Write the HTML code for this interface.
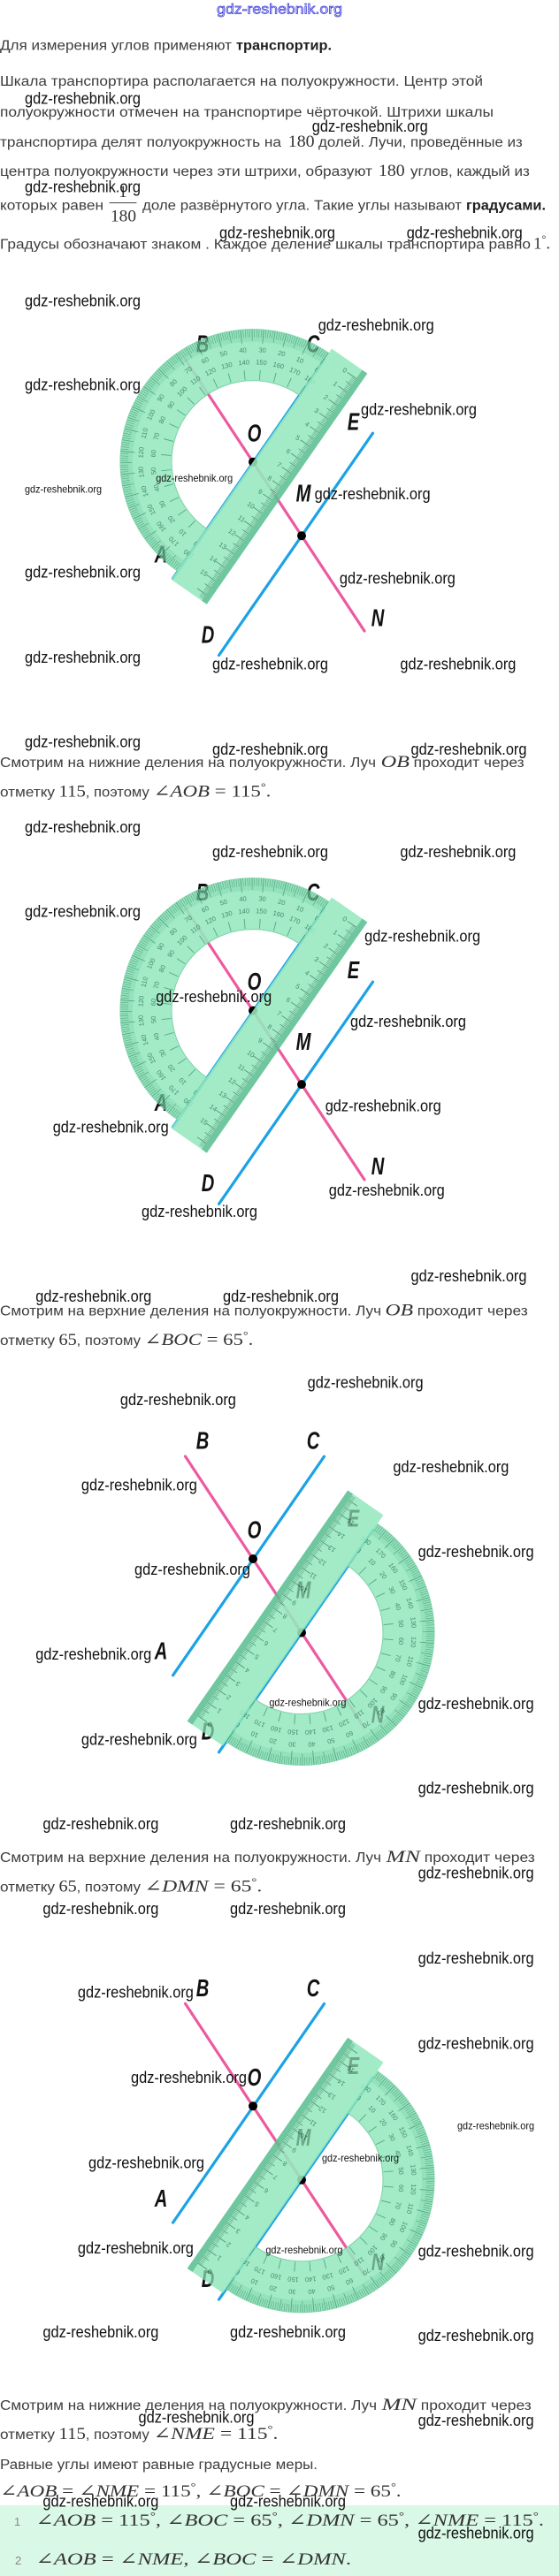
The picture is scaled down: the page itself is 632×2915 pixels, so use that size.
<!DOCTYPE html>
<html><head><meta charset="utf-8"><style>
html,body{margin:0;padding:0;background:#fff}
svg{display:block}
.t{font:15.5px "Liberation Sans",sans-serif;fill:#3d3d3d}
.b{font:bold 15.5px "Liberation Sans",sans-serif;fill:#1e1e1e}
.m{font:19px "Liberation Serif","DejaVu Serif",serif;fill:#333}
.i{font-style:italic}
.wl{font:18px "Liberation Sans",sans-serif;fill:#111}
.ws{font:12px "Liberation Sans",sans-serif;fill:#111}
.lb{font:italic bold 28px "Liberation Sans",sans-serif;fill:#111;text-anchor:middle}
.pn{font:7.5px "Liberation Sans",sans-serif;fill:#2a7a5c;text-anchor:middle}
.hd{font:16px "Liberation Sans",sans-serif;fill:#d8d8fb;stroke:#3b3bd6;stroke-width:0.7}
.nm{font:13px "Liberation Sans",sans-serif;fill:#888}
</style></head><body>
<svg width="632" height="2915" viewBox="0 0 632 2915" xmlns="http://www.w3.org/2000/svg">
<rect width="632" height="2915" fill="#fff"/>

<text class="hd" x="245" y="15.5" textLength="142" lengthAdjust="spacingAndGlyphs">gdz-reshebnik.org</text>

<text class="t" x="0" y="56.7" textLength="262" lengthAdjust="spacingAndGlyphs">Для измерения углов применяют</text>
<text class="b" x="267" y="56.7" textLength="108" lengthAdjust="spacingAndGlyphs">транспортир.</text>
<text class="t" x="0" y="97" textLength="546" lengthAdjust="spacingAndGlyphs">Шкала транспортира располагается на полуокружности. Центр этой</text>
<text class="t" x="0" y="132" textLength="558" lengthAdjust="spacingAndGlyphs">полуокружности отмечен на транспортире чёрточкой. Штрихи шкалы</text>
<text class="t" x="0" y="166" textLength="318" lengthAdjust="spacingAndGlyphs">транспортира делят полуокружность на</text>
<text class="m" x="325.8" y="166" textLength="29.8" lengthAdjust="spacingAndGlyphs">180</text>
<text class="t" x="360" y="166" textLength="230.7" lengthAdjust="spacingAndGlyphs">долей. Лучи, проведённые из</text>
<text class="t" x="0" y="199" textLength="421" lengthAdjust="spacingAndGlyphs">центра полуокружности через эти штрихи, образуют</text>
<text class="m" x="428" y="199" textLength="29.7" lengthAdjust="spacingAndGlyphs">180</text>
<text class="t" x="464" y="199" textLength="134.8" lengthAdjust="spacingAndGlyphs">углов, каждый из</text>
<text class="t" x="0" y="237.3" textLength="117" lengthAdjust="spacingAndGlyphs">которых равен</text>
<text class="m" x="139" y="223" font-size="13" text-anchor="middle">1</text>
<line x1="123.5" y1="229.5" x2="154.5" y2="229.5" stroke="#444" stroke-width="1"/>
<text class="m" x="125" y="250.7" font-size="18" textLength="29" lengthAdjust="spacingAndGlyphs">180</text>
<text class="t" x="161" y="237.3" textLength="361" lengthAdjust="spacingAndGlyphs">доле развёрнутого угла. Такие углы называют</text>
<text class="b" x="527" y="237.3" textLength="90" lengthAdjust="spacingAndGlyphs">градусами.</text>
<text class="t" x="0" y="281.7" textLength="600" lengthAdjust="spacingAndGlyphs">Градусы обозначают знаком . Каждое деление шкалы транспортира равно</text>
<text class="m" x="603" y="281.7">1<tspan dy="-7" font-size="12">°</tspan><tspan dy="7">.</tspan></text>

<text class="t" x="0" y="868" textLength="425" lengthAdjust="spacingAndGlyphs">Смотрим на нижние деления на полуокружности. Луч</text>
<text class="m i" x="430.6" y="868" textLength="32.4" lengthAdjust="spacingAndGlyphs">OB</text>
<text class="t" x="467.7" y="868" textLength="125" lengthAdjust="spacingAndGlyphs">проходит через</text>
<text class="t" x="0" y="901.5" textLength="62" lengthAdjust="spacingAndGlyphs">отметку</text>
<text class="m" x="66.5" y="901.5" textLength="30.3" lengthAdjust="spacingAndGlyphs">115</text>
<text class="t" x="96.8" y="901.5" textLength="72" lengthAdjust="spacingAndGlyphs">, поэтому</text>
<text class="m" x="173.4" y="901.5" textLength="133" lengthAdjust="spacingAndGlyphs">∠<tspan class="i">AOB</tspan> = 115<tspan dy="-7" font-size="12">°</tspan><tspan dy="7">.</tspan></text>

<text class="t" x="0" y="1488.6" textLength="431" lengthAdjust="spacingAndGlyphs">Смотрим на верхние деления на полуокружности. Луч</text>
<text class="m i" x="435.5" y="1488.6" textLength="31.5" lengthAdjust="spacingAndGlyphs">OB</text>
<text class="t" x="471.8" y="1488.6" textLength="125" lengthAdjust="spacingAndGlyphs">проходит через</text>
<text class="t" x="0" y="1521.8" textLength="62" lengthAdjust="spacingAndGlyphs">отметку</text>
<text class="m" x="66.5" y="1521.8" textLength="20.2" lengthAdjust="spacingAndGlyphs">65</text>
<text class="t" x="86.7" y="1521.8" textLength="72.3" lengthAdjust="spacingAndGlyphs">, поэтому</text>
<text class="m" x="163.3" y="1521.8" textLength="123" lengthAdjust="spacingAndGlyphs">∠<tspan class="i">BOC</tspan> = 65<tspan dy="-7" font-size="12">°</tspan><tspan dy="7">.</tspan></text>

<text class="t" x="0" y="2107.2" textLength="431" lengthAdjust="spacingAndGlyphs">Смотрим на верхние деления на полуокружности. Луч</text>
<text class="m i" x="436.7" y="2107.2" textLength="38.3" lengthAdjust="spacingAndGlyphs">MN</text>
<text class="t" x="479.8" y="2107.2" textLength="125" lengthAdjust="spacingAndGlyphs">проходит через</text>
<text class="t" x="0" y="2140.5" textLength="62" lengthAdjust="spacingAndGlyphs">отметку</text>
<text class="m" x="66.5" y="2140.5" textLength="20.2" lengthAdjust="spacingAndGlyphs">65</text>
<text class="t" x="86.7" y="2140.5" textLength="72.3" lengthAdjust="spacingAndGlyphs">, поэтому</text>
<text class="m" x="163.3" y="2140.5" textLength="133" lengthAdjust="spacingAndGlyphs">∠<tspan class="i">DMN</tspan> = 65<tspan dy="-7" font-size="12">°</tspan><tspan dy="7">.</tspan></text>

<text class="t" x="0" y="2727" textLength="426" lengthAdjust="spacingAndGlyphs">Смотрим на нижние деления на полуокружности. Луч</text>
<text class="m i" x="431.5" y="2727" textLength="39.5" lengthAdjust="spacingAndGlyphs">MN</text>
<text class="t" x="475.8" y="2727" textLength="125" lengthAdjust="spacingAndGlyphs">проходит через</text>
<text class="t" x="0" y="2760" textLength="62" lengthAdjust="spacingAndGlyphs">отметку</text>
<text class="m" x="66.5" y="2760" textLength="30.3" lengthAdjust="spacingAndGlyphs">115</text>
<text class="t" x="96.8" y="2760" textLength="72" lengthAdjust="spacingAndGlyphs">, поэтому</text>
<text class="m" x="173.4" y="2760" textLength="141" lengthAdjust="spacingAndGlyphs">∠<tspan class="i">NME</tspan> = 115<tspan dy="-7" font-size="12">°</tspan><tspan dy="7">.</tspan></text>
<text class="t" x="0" y="2794" textLength="359" lengthAdjust="spacingAndGlyphs">Равные углы имеют равные градусные меры.</text>
<text class="m" x="0" y="2825" textLength="453.6" lengthAdjust="spacingAndGlyphs">∠<tspan class="i">AOB</tspan> = ∠<tspan class="i">NME</tspan> = 115<tspan dy="-7" font-size="12">°</tspan><tspan dy="7">, ∠</tspan><tspan class="i">BOC</tspan> = ∠<tspan class="i">DMN</tspan> = 65<tspan dy="-7" font-size="12">°</tspan><tspan dy="7">.</tspan></text>

<rect x="0" y="2835" width="632" height="80" fill="#d9f8e5"/>
<text class="nm" x="16" y="2858">1</text>
<text class="m" x="40.3" y="2858" textLength="574.7" lengthAdjust="spacingAndGlyphs">∠<tspan class="i">AOB</tspan> = 115<tspan dy="-7" font-size="12">°</tspan><tspan dy="7">, ∠</tspan><tspan class="i">BOC</tspan> = 65<tspan dy="-7" font-size="12">°</tspan><tspan dy="7">, ∠</tspan><tspan class="i">DMN</tspan> = 65<tspan dy="-7" font-size="12">°</tspan><tspan dy="7">, ∠</tspan><tspan class="i">NME</tspan> = 115<tspan dy="-7" font-size="12">°</tspan><tspan dy="7">.</tspan></text>
<text class="nm" x="17" y="2902">2</text>
<text class="m" x="40.3" y="2902" textLength="356.7" lengthAdjust="spacingAndGlyphs">∠<tspan class="i">AOB</tspan> = ∠<tspan class="i">NME</tspan>, ∠<tspan class="i">BOC</tspan> = ∠<tspan class="i">DMN</tspan>.</text>

<!-- ============ DIAGRAM 1 ============ -->
<g transform="translate(0,0)">
<line x1="209.5" y1="406.7" x2="412" y2="714" stroke="#ec5aa0" stroke-width="3.2" stroke-linecap="round"/>
<line x1="366.5" y1="406.9" x2="195.5" y2="654.5" stroke="#1ca2e4" stroke-width="3.2" stroke-linecap="round"/>
<line x1="421.5" y1="490.2" x2="247.5" y2="741.5" stroke="#1ca2e4" stroke-width="3.2" stroke-linecap="round"/>
<circle cx="286" cy="522.7" r="5" fill="#000"/>
<circle cx="341" cy="606.2" r="5" fill="#000"/>
<text class="lb" transform="translate(229,398.3) scale(0.72,1)">B</text>
<text class="lb" transform="translate(354,398.3) scale(0.72,1)">C</text>
<text class="lb" transform="translate(287.5,499.3) scale(0.72,1)">O</text>
<text class="lb" transform="translate(343,567.3) scale(0.72,1)">M</text>
<text class="lb" transform="translate(399.5,486.3) scale(0.72,1)">E</text>
<text class="lb" transform="translate(427,708.3) scale(0.72,1)">N</text>
<text class="lb" transform="translate(235,727.3) scale(0.72,1)">D</text>
<text class="lb" transform="translate(182,636.3) scale(0.72,1)">A</text>
<g transform="translate(286,522.7) rotate(-55.2)">
<g opacity="0.88">
<path d="M150 0A150 150 0 0 0-150 0L-92 0A92 92 0 0 1 92 0Z" fill="#96e9bf" stroke="#6ccc9c" stroke-width="1"/>
<path d="M143 0A143 143 0 0 0-143 0" fill="none" stroke="#86dfb2" stroke-width="14"/>
<path d="M145.5 0A145.5 145.5 0 0 0-145.5 0" fill="none" stroke="#3e9c76" stroke-width="9" stroke-dasharray="0.6 1.94"/>
<path d="M143.5 0A143.5 143.5 0 0 0-143.5 0" fill="none" stroke="#3e9c76" stroke-width="13" stroke-dasharray="0.7 11.823"/>
<path d="M142 0A142 142 0 0 0-142 0" fill="none" stroke="#3e9c76" stroke-width="16" stroke-dasharray="0.8 23.984"/>
<path d="M98.5 0A98.5 98.5 0 0 0-98.5 0" fill="none" stroke="#3e9c76" stroke-width="11" stroke-dasharray="0.9 16.291"/>
<g class="pn">
<text transform="rotate(90)translate(0,-127)" dy="2.6">0</text><text transform="rotate(90)translate(0,-113)" dy="2.6">180</text>
<text transform="rotate(80)translate(0,-127)" dy="2.6">10</text><text transform="rotate(80)translate(0,-113)" dy="2.6">170</text>
<text transform="rotate(70)translate(0,-127)" dy="2.6">20</text><text transform="rotate(70)translate(0,-113)" dy="2.6">160</text>
<text transform="rotate(60)translate(0,-127)" dy="2.6">30</text><text transform="rotate(60)translate(0,-113)" dy="2.6">150</text>
<text transform="rotate(50)translate(0,-127)" dy="2.6">40</text><text transform="rotate(50)translate(0,-113)" dy="2.6">140</text>
<text transform="rotate(40)translate(0,-127)" dy="2.6">50</text><text transform="rotate(40)translate(0,-113)" dy="2.6">130</text>
<text transform="rotate(30)translate(0,-127)" dy="2.6">60</text><text transform="rotate(30)translate(0,-113)" dy="2.6">120</text>
<text transform="rotate(20)translate(0,-127)" dy="2.6">70</text><text transform="rotate(20)translate(0,-113)" dy="2.6">110</text>
<text transform="rotate(10)translate(0,-127)" dy="2.6">80</text><text transform="rotate(10)translate(0,-113)" dy="2.6">100</text>
<text transform="rotate(0)translate(0,-127)" dy="2.6">90</text><text transform="rotate(0)translate(0,-113)" dy="2.6">90</text>
<text transform="rotate(-10)translate(0,-127)" dy="2.6">100</text><text transform="rotate(-10)translate(0,-113)" dy="2.6">80</text>
<text transform="rotate(-20)translate(0,-127)" dy="2.6">110</text><text transform="rotate(-20)translate(0,-113)" dy="2.6">70</text>
<text transform="rotate(-30)translate(0,-127)" dy="2.6">120</text><text transform="rotate(-30)translate(0,-113)" dy="2.6">60</text>
<text transform="rotate(-40)translate(0,-127)" dy="2.6">130</text><text transform="rotate(-40)translate(0,-113)" dy="2.6">50</text>
<text transform="rotate(-50)translate(0,-127)" dy="2.6">140</text><text transform="rotate(-50)translate(0,-113)" dy="2.6">40</text>
<text transform="rotate(-60)translate(0,-127)" dy="2.6">150</text><text transform="rotate(-60)translate(0,-113)" dy="2.6">30</text>
<text transform="rotate(-70)translate(0,-127)" dy="2.6">160</text><text transform="rotate(-70)translate(0,-113)" dy="2.6">20</text>
<text transform="rotate(-80)translate(0,-127)" dy="2.6">170</text><text transform="rotate(-80)translate(0,-113)" dy="2.6">10</text>
<text transform="rotate(-90)translate(0,-127)" dy="2.6">180</text><text transform="rotate(-90)translate(0,-113)" dy="2.6">0</text>
</g>
</g>
<g opacity="0.88">
<rect x="-162" y="0" width="318" height="49" fill="#96e9bf"/>
<rect x="-162" y="42" width="318" height="7" fill="#5cbf92"/>
<path d="M144.5 39.5H-160" stroke="#357f5f" stroke-width="5" stroke-dasharray="0.5 1.36"/>
<path d="M144.5 36H-160" stroke="#357f5f" stroke-width="12" stroke-dasharray="0.8 17.8"/>
<path d="M135.2 38H-160" stroke="#357f5f" stroke-width="8" stroke-dasharray="0.7 17.9"/>
<g class="pn">
<text transform="translate(144.5,26)rotate(90)" dy="2.6">0</text><text transform="translate(125.9,26)rotate(90)" dy="2.6">1</text>
<text transform="translate(107.3,26)rotate(90)" dy="2.6">2</text><text transform="translate(88.7,26)rotate(90)" dy="2.6">3</text>
<text transform="translate(70.1,26)rotate(90)" dy="2.6">4</text><text transform="translate(51.5,26)rotate(90)" dy="2.6">5</text>
<text transform="translate(32.9,26)rotate(90)" dy="2.6">6</text><text transform="translate(14.3,26)rotate(90)" dy="2.6">7</text>
<text transform="translate(-4.3,26)rotate(90)" dy="2.6">8</text><text transform="translate(-22.9,26)rotate(90)" dy="2.6">9</text>
<text transform="translate(-41.5,26)rotate(90)" dy="2.6">10</text><text transform="translate(-60.1,26)rotate(90)" dy="2.6">11</text>
<text transform="translate(-78.7,26)rotate(90)" dy="2.6">12</text><text transform="translate(-97.3,26)rotate(90)" dy="2.6">13</text>
<text transform="translate(-115.9,26)rotate(90)" dy="2.6">14</text><text transform="translate(-134.5,26)rotate(90)" dy="2.6">15</text>
</g>
</g>
</g>
<g opacity="0.22">
<text class="lb" transform="translate(229,398.3) scale(0.72,1)">B</text>
<text class="lb" transform="translate(354,398.3) scale(0.72,1)">C</text>
<text class="lb" transform="translate(182,636.3) scale(0.72,1)">A</text>
</g>
</g>

<!-- ============ DIAGRAM 2 ============ -->
<g transform="translate(0,620.9)">
<line x1="209.5" y1="406.7" x2="412" y2="714" stroke="#ec5aa0" stroke-width="3.2" stroke-linecap="round"/>
<line x1="366.5" y1="406.9" x2="195.5" y2="654.5" stroke="#1ca2e4" stroke-width="3.2" stroke-linecap="round"/>
<line x1="421.5" y1="490.2" x2="247.5" y2="741.5" stroke="#1ca2e4" stroke-width="3.2" stroke-linecap="round"/>
<circle cx="286" cy="522.7" r="5" fill="#000"/>
<circle cx="341" cy="606.2" r="5" fill="#000"/>
<text class="lb" transform="translate(229,398.3) scale(0.72,1)">B</text>
<text class="lb" transform="translate(354,398.3) scale(0.72,1)">C</text>
<text class="lb" transform="translate(287.5,499.3) scale(0.72,1)">O</text>
<text class="lb" transform="translate(343,567.3) scale(0.72,1)">M</text>
<text class="lb" transform="translate(399.5,486.3) scale(0.72,1)">E</text>
<text class="lb" transform="translate(427,708.3) scale(0.72,1)">N</text>
<text class="lb" transform="translate(235,727.3) scale(0.72,1)">D</text>
<text class="lb" transform="translate(182,636.3) scale(0.72,1)">A</text>
<g transform="translate(286,522.7) rotate(-55.2)">
<g opacity="0.88">
<path d="M150 0A150 150 0 0 0-150 0L-92 0A92 92 0 0 1 92 0Z" fill="#96e9bf" stroke="#6ccc9c" stroke-width="1"/>
<path d="M143 0A143 143 0 0 0-143 0" fill="none" stroke="#86dfb2" stroke-width="14"/>
<path d="M145.5 0A145.5 145.5 0 0 0-145.5 0" fill="none" stroke="#3e9c76" stroke-width="9" stroke-dasharray="0.6 1.94"/>
<path d="M143.5 0A143.5 143.5 0 0 0-143.5 0" fill="none" stroke="#3e9c76" stroke-width="13" stroke-dasharray="0.7 11.823"/>
<path d="M142 0A142 142 0 0 0-142 0" fill="none" stroke="#3e9c76" stroke-width="16" stroke-dasharray="0.8 23.984"/>
<path d="M98.5 0A98.5 98.5 0 0 0-98.5 0" fill="none" stroke="#3e9c76" stroke-width="11" stroke-dasharray="0.9 16.291"/>
<g class="pn">
<text transform="rotate(90)translate(0,-127)" dy="2.6">0</text><text transform="rotate(90)translate(0,-113)" dy="2.6">180</text>
<text transform="rotate(80)translate(0,-127)" dy="2.6">10</text><text transform="rotate(80)translate(0,-113)" dy="2.6">170</text>
<text transform="rotate(70)translate(0,-127)" dy="2.6">20</text><text transform="rotate(70)translate(0,-113)" dy="2.6">160</text>
<text transform="rotate(60)translate(0,-127)" dy="2.6">30</text><text transform="rotate(60)translate(0,-113)" dy="2.6">150</text>
<text transform="rotate(50)translate(0,-127)" dy="2.6">40</text><text transform="rotate(50)translate(0,-113)" dy="2.6">140</text>
<text transform="rotate(40)translate(0,-127)" dy="2.6">50</text><text transform="rotate(40)translate(0,-113)" dy="2.6">130</text>
<text transform="rotate(30)translate(0,-127)" dy="2.6">60</text><text transform="rotate(30)translate(0,-113)" dy="2.6">120</text>
<text transform="rotate(20)translate(0,-127)" dy="2.6">70</text><text transform="rotate(20)translate(0,-113)" dy="2.6">110</text>
<text transform="rotate(10)translate(0,-127)" dy="2.6">80</text><text transform="rotate(10)translate(0,-113)" dy="2.6">100</text>
<text transform="rotate(0)translate(0,-127)" dy="2.6">90</text><text transform="rotate(0)translate(0,-113)" dy="2.6">90</text>
<text transform="rotate(-10)translate(0,-127)" dy="2.6">100</text><text transform="rotate(-10)translate(0,-113)" dy="2.6">80</text>
<text transform="rotate(-20)translate(0,-127)" dy="2.6">110</text><text transform="rotate(-20)translate(0,-113)" dy="2.6">70</text>
<text transform="rotate(-30)translate(0,-127)" dy="2.6">120</text><text transform="rotate(-30)translate(0,-113)" dy="2.6">60</text>
<text transform="rotate(-40)translate(0,-127)" dy="2.6">130</text><text transform="rotate(-40)translate(0,-113)" dy="2.6">50</text>
<text transform="rotate(-50)translate(0,-127)" dy="2.6">140</text><text transform="rotate(-50)translate(0,-113)" dy="2.6">40</text>
<text transform="rotate(-60)translate(0,-127)" dy="2.6">150</text><text transform="rotate(-60)translate(0,-113)" dy="2.6">30</text>
<text transform="rotate(-70)translate(0,-127)" dy="2.6">160</text><text transform="rotate(-70)translate(0,-113)" dy="2.6">20</text>
<text transform="rotate(-80)translate(0,-127)" dy="2.6">170</text><text transform="rotate(-80)translate(0,-113)" dy="2.6">10</text>
<text transform="rotate(-90)translate(0,-127)" dy="2.6">180</text><text transform="rotate(-90)translate(0,-113)" dy="2.6">0</text>
</g>
</g>
<g opacity="0.88">
<rect x="-162" y="0" width="318" height="49" fill="#96e9bf"/>
<rect x="-162" y="42" width="318" height="7" fill="#5cbf92"/>
<path d="M144.5 39.5H-160" stroke="#357f5f" stroke-width="5" stroke-dasharray="0.5 1.36"/>
<path d="M144.5 36H-160" stroke="#357f5f" stroke-width="12" stroke-dasharray="0.8 17.8"/>
<path d="M135.2 38H-160" stroke="#357f5f" stroke-width="8" stroke-dasharray="0.7 17.9"/>
<g class="pn">
<text transform="translate(144.5,26)rotate(90)" dy="2.6">0</text><text transform="translate(125.9,26)rotate(90)" dy="2.6">1</text>
<text transform="translate(107.3,26)rotate(90)" dy="2.6">2</text><text transform="translate(88.7,26)rotate(90)" dy="2.6">3</text>
<text transform="translate(70.1,26)rotate(90)" dy="2.6">4</text><text transform="translate(51.5,26)rotate(90)" dy="2.6">5</text>
<text transform="translate(32.9,26)rotate(90)" dy="2.6">6</text><text transform="translate(14.3,26)rotate(90)" dy="2.6">7</text>
<text transform="translate(-4.3,26)rotate(90)" dy="2.6">8</text><text transform="translate(-22.9,26)rotate(90)" dy="2.6">9</text>
<text transform="translate(-41.5,26)rotate(90)" dy="2.6">10</text><text transform="translate(-60.1,26)rotate(90)" dy="2.6">11</text>
<text transform="translate(-78.7,26)rotate(90)" dy="2.6">12</text><text transform="translate(-97.3,26)rotate(90)" dy="2.6">13</text>
<text transform="translate(-115.9,26)rotate(90)" dy="2.6">14</text><text transform="translate(-134.5,26)rotate(90)" dy="2.6">15</text>
</g>
</g>
</g>
<g opacity="0.22">
<text class="lb" transform="translate(229,398.3) scale(0.72,1)">B</text>
<text class="lb" transform="translate(354,398.3) scale(0.72,1)">C</text>
<text class="lb" transform="translate(182,636.3) scale(0.72,1)">A</text>
</g>
</g>

<!-- ============ DIAGRAM 3 ============ -->
<g transform="translate(0,1241.3)">
<line x1="209.5" y1="406.7" x2="412" y2="714" stroke="#ec5aa0" stroke-width="3.2" stroke-linecap="round"/>
<line x1="366.5" y1="406.9" x2="195.5" y2="654.5" stroke="#1ca2e4" stroke-width="3.2" stroke-linecap="round"/>
<line x1="421.5" y1="490.2" x2="247.5" y2="741.5" stroke="#1ca2e4" stroke-width="3.2" stroke-linecap="round"/>
<circle cx="286" cy="522.7" r="5" fill="#000"/>
<circle cx="341" cy="606.2" r="5" fill="#000"/>
<text class="lb" transform="translate(229,398.3) scale(0.72,1)">B</text>
<text class="lb" transform="translate(354,398.3) scale(0.72,1)">C</text>
<text class="lb" transform="translate(287.5,499.3) scale(0.72,1)">O</text>
<text class="lb" transform="translate(343,567.3) scale(0.72,1)">M</text>
<text class="lb" transform="translate(399.5,486.3) scale(0.72,1)">E</text>
<text class="lb" transform="translate(427,708.3) scale(0.72,1)">N</text>
<text class="lb" transform="translate(235,727.3) scale(0.72,1)">D</text>
<text class="lb" transform="translate(182,636.3) scale(0.72,1)">A</text>
<g transform="translate(341,606.2) rotate(124.8)">
<g opacity="0.88">
<path d="M150 0A150 150 0 0 0-150 0L-92 0A92 92 0 0 1 92 0Z" fill="#96e9bf" stroke="#6ccc9c" stroke-width="1"/>
<path d="M143 0A143 143 0 0 0-143 0" fill="none" stroke="#86dfb2" stroke-width="14"/>
<path d="M145.5 0A145.5 145.5 0 0 0-145.5 0" fill="none" stroke="#3e9c76" stroke-width="9" stroke-dasharray="0.6 1.94"/>
<path d="M143.5 0A143.5 143.5 0 0 0-143.5 0" fill="none" stroke="#3e9c76" stroke-width="13" stroke-dasharray="0.7 11.823"/>
<path d="M142 0A142 142 0 0 0-142 0" fill="none" stroke="#3e9c76" stroke-width="16" stroke-dasharray="0.8 23.984"/>
<path d="M98.5 0A98.5 98.5 0 0 0-98.5 0" fill="none" stroke="#3e9c76" stroke-width="11" stroke-dasharray="0.9 16.291"/>
<g class="pn">
<text transform="rotate(90)translate(0,-127)" dy="2.6">0</text><text transform="rotate(90)translate(0,-113)" dy="2.6">180</text>
<text transform="rotate(80)translate(0,-127)" dy="2.6">10</text><text transform="rotate(80)translate(0,-113)" dy="2.6">170</text>
<text transform="rotate(70)translate(0,-127)" dy="2.6">20</text><text transform="rotate(70)translate(0,-113)" dy="2.6">160</text>
<text transform="rotate(60)translate(0,-127)" dy="2.6">30</text><text transform="rotate(60)translate(0,-113)" dy="2.6">150</text>
<text transform="rotate(50)translate(0,-127)" dy="2.6">40</text><text transform="rotate(50)translate(0,-113)" dy="2.6">140</text>
<text transform="rotate(40)translate(0,-127)" dy="2.6">50</text><text transform="rotate(40)translate(0,-113)" dy="2.6">130</text>
<text transform="rotate(30)translate(0,-127)" dy="2.6">60</text><text transform="rotate(30)translate(0,-113)" dy="2.6">120</text>
<text transform="rotate(20)translate(0,-127)" dy="2.6">70</text><text transform="rotate(20)translate(0,-113)" dy="2.6">110</text>
<text transform="rotate(10)translate(0,-127)" dy="2.6">80</text><text transform="rotate(10)translate(0,-113)" dy="2.6">100</text>
<text transform="rotate(0)translate(0,-127)" dy="2.6">90</text><text transform="rotate(0)translate(0,-113)" dy="2.6">90</text>
<text transform="rotate(-10)translate(0,-127)" dy="2.6">100</text><text transform="rotate(-10)translate(0,-113)" dy="2.6">80</text>
<text transform="rotate(-20)translate(0,-127)" dy="2.6">110</text><text transform="rotate(-20)translate(0,-113)" dy="2.6">70</text>
<text transform="rotate(-30)translate(0,-127)" dy="2.6">120</text><text transform="rotate(-30)translate(0,-113)" dy="2.6">60</text>
<text transform="rotate(-40)translate(0,-127)" dy="2.6">130</text><text transform="rotate(-40)translate(0,-113)" dy="2.6">50</text>
<text transform="rotate(-50)translate(0,-127)" dy="2.6">140</text><text transform="rotate(-50)translate(0,-113)" dy="2.6">40</text>
<text transform="rotate(-60)translate(0,-127)" dy="2.6">150</text><text transform="rotate(-60)translate(0,-113)" dy="2.6">30</text>
<text transform="rotate(-70)translate(0,-127)" dy="2.6">160</text><text transform="rotate(-70)translate(0,-113)" dy="2.6">20</text>
<text transform="rotate(-80)translate(0,-127)" dy="2.6">170</text><text transform="rotate(-80)translate(0,-113)" dy="2.6">10</text>
<text transform="rotate(-90)translate(0,-127)" dy="2.6">180</text><text transform="rotate(-90)translate(0,-113)" dy="2.6">0</text>
</g>
</g>
<g opacity="0.88">
<rect x="-162" y="0" width="318" height="49" fill="#96e9bf"/>
<rect x="-162" y="42" width="318" height="7" fill="#5cbf92"/>
<path d="M144.5 39.5H-160" stroke="#357f5f" stroke-width="5" stroke-dasharray="0.5 1.36"/>
<path d="M144.5 36H-160" stroke="#357f5f" stroke-width="12" stroke-dasharray="0.8 17.8"/>
<path d="M135.2 38H-160" stroke="#357f5f" stroke-width="8" stroke-dasharray="0.7 17.9"/>
<g class="pn">
<text transform="translate(144.5,26)rotate(90)" dy="2.6">0</text><text transform="translate(125.9,26)rotate(90)" dy="2.6">1</text>
<text transform="translate(107.3,26)rotate(90)" dy="2.6">2</text><text transform="translate(88.7,26)rotate(90)" dy="2.6">3</text>
<text transform="translate(70.1,26)rotate(90)" dy="2.6">4</text><text transform="translate(51.5,26)rotate(90)" dy="2.6">5</text>
<text transform="translate(32.9,26)rotate(90)" dy="2.6">6</text><text transform="translate(14.3,26)rotate(90)" dy="2.6">7</text>
<text transform="translate(-4.3,26)rotate(90)" dy="2.6">8</text><text transform="translate(-22.9,26)rotate(90)" dy="2.6">9</text>
<text transform="translate(-41.5,26)rotate(90)" dy="2.6">10</text><text transform="translate(-60.1,26)rotate(90)" dy="2.6">11</text>
<text transform="translate(-78.7,26)rotate(90)" dy="2.6">12</text><text transform="translate(-97.3,26)rotate(90)" dy="2.6">13</text>
<text transform="translate(-115.9,26)rotate(90)" dy="2.6">14</text><text transform="translate(-134.5,26)rotate(90)" dy="2.6">15</text>
</g>
</g>
</g>
<g opacity="0.2">
<text class="lb" transform="translate(343,567.3) scale(0.72,1)">M</text>
<text class="lb" transform="translate(399.5,486.3) scale(0.72,1)">E</text>
<text class="lb" transform="translate(427,708.3) scale(0.72,1)">N</text>
<text class="lb" transform="translate(235,727.3) scale(0.72,1)">D</text>
</g>
</g>

<!-- ============ DIAGRAM 4 ============ -->
<g transform="translate(0,1860.6)">
<line x1="209.5" y1="406.7" x2="412" y2="714" stroke="#ec5aa0" stroke-width="3.2" stroke-linecap="round"/>
<line x1="366.5" y1="406.9" x2="195.5" y2="654.5" stroke="#1ca2e4" stroke-width="3.2" stroke-linecap="round"/>
<line x1="421.5" y1="490.2" x2="247.5" y2="741.5" stroke="#1ca2e4" stroke-width="3.2" stroke-linecap="round"/>
<circle cx="286" cy="522.7" r="5" fill="#000"/>
<circle cx="341" cy="606.2" r="5" fill="#000"/>
<text class="lb" transform="translate(229,398.3) scale(0.72,1)">B</text>
<text class="lb" transform="translate(354,398.3) scale(0.72,1)">C</text>
<text class="lb" transform="translate(287.5,499.3) scale(0.72,1)">O</text>
<text class="lb" transform="translate(343,567.3) scale(0.72,1)">M</text>
<text class="lb" transform="translate(399.5,486.3) scale(0.72,1)">E</text>
<text class="lb" transform="translate(427,708.3) scale(0.72,1)">N</text>
<text class="lb" transform="translate(235,727.3) scale(0.72,1)">D</text>
<text class="lb" transform="translate(182,636.3) scale(0.72,1)">A</text>
<g transform="translate(341,606.2) rotate(124.8)">
<g opacity="0.88">
<path d="M150 0A150 150 0 0 0-150 0L-92 0A92 92 0 0 1 92 0Z" fill="#96e9bf" stroke="#6ccc9c" stroke-width="1"/>
<path d="M143 0A143 143 0 0 0-143 0" fill="none" stroke="#86dfb2" stroke-width="14"/>
<path d="M145.5 0A145.5 145.5 0 0 0-145.5 0" fill="none" stroke="#3e9c76" stroke-width="9" stroke-dasharray="0.6 1.94"/>
<path d="M143.5 0A143.5 143.5 0 0 0-143.5 0" fill="none" stroke="#3e9c76" stroke-width="13" stroke-dasharray="0.7 11.823"/>
<path d="M142 0A142 142 0 0 0-142 0" fill="none" stroke="#3e9c76" stroke-width="16" stroke-dasharray="0.8 23.984"/>
<path d="M98.5 0A98.5 98.5 0 0 0-98.5 0" fill="none" stroke="#3e9c76" stroke-width="11" stroke-dasharray="0.9 16.291"/>
<g class="pn">
<text transform="rotate(90)translate(0,-127)" dy="2.6">0</text><text transform="rotate(90)translate(0,-113)" dy="2.6">180</text>
<text transform="rotate(80)translate(0,-127)" dy="2.6">10</text><text transform="rotate(80)translate(0,-113)" dy="2.6">170</text>
<text transform="rotate(70)translate(0,-127)" dy="2.6">20</text><text transform="rotate(70)translate(0,-113)" dy="2.6">160</text>
<text transform="rotate(60)translate(0,-127)" dy="2.6">30</text><text transform="rotate(60)translate(0,-113)" dy="2.6">150</text>
<text transform="rotate(50)translate(0,-127)" dy="2.6">40</text><text transform="rotate(50)translate(0,-113)" dy="2.6">140</text>
<text transform="rotate(40)translate(0,-127)" dy="2.6">50</text><text transform="rotate(40)translate(0,-113)" dy="2.6">130</text>
<text transform="rotate(30)translate(0,-127)" dy="2.6">60</text><text transform="rotate(30)translate(0,-113)" dy="2.6">120</text>
<text transform="rotate(20)translate(0,-127)" dy="2.6">70</text><text transform="rotate(20)translate(0,-113)" dy="2.6">110</text>
<text transform="rotate(10)translate(0,-127)" dy="2.6">80</text><text transform="rotate(10)translate(0,-113)" dy="2.6">100</text>
<text transform="rotate(0)translate(0,-127)" dy="2.6">90</text><text transform="rotate(0)translate(0,-113)" dy="2.6">90</text>
<text transform="rotate(-10)translate(0,-127)" dy="2.6">100</text><text transform="rotate(-10)translate(0,-113)" dy="2.6">80</text>
<text transform="rotate(-20)translate(0,-127)" dy="2.6">110</text><text transform="rotate(-20)translate(0,-113)" dy="2.6">70</text>
<text transform="rotate(-30)translate(0,-127)" dy="2.6">120</text><text transform="rotate(-30)translate(0,-113)" dy="2.6">60</text>
<text transform="rotate(-40)translate(0,-127)" dy="2.6">130</text><text transform="rotate(-40)translate(0,-113)" dy="2.6">50</text>
<text transform="rotate(-50)translate(0,-127)" dy="2.6">140</text><text transform="rotate(-50)translate(0,-113)" dy="2.6">40</text>
<text transform="rotate(-60)translate(0,-127)" dy="2.6">150</text><text transform="rotate(-60)translate(0,-113)" dy="2.6">30</text>
<text transform="rotate(-70)translate(0,-127)" dy="2.6">160</text><text transform="rotate(-70)translate(0,-113)" dy="2.6">20</text>
<text transform="rotate(-80)translate(0,-127)" dy="2.6">170</text><text transform="rotate(-80)translate(0,-113)" dy="2.6">10</text>
<text transform="rotate(-90)translate(0,-127)" dy="2.6">180</text><text transform="rotate(-90)translate(0,-113)" dy="2.6">0</text>
</g>
</g>
<g opacity="0.88">
<rect x="-162" y="0" width="318" height="49" fill="#96e9bf"/>
<rect x="-162" y="42" width="318" height="7" fill="#5cbf92"/>
<path d="M144.5 39.5H-160" stroke="#357f5f" stroke-width="5" stroke-dasharray="0.5 1.36"/>
<path d="M144.5 36H-160" stroke="#357f5f" stroke-width="12" stroke-dasharray="0.8 17.8"/>
<path d="M135.2 38H-160" stroke="#357f5f" stroke-width="8" stroke-dasharray="0.7 17.9"/>
<g class="pn">
<text transform="translate(144.5,26)rotate(90)" dy="2.6">0</text><text transform="translate(125.9,26)rotate(90)" dy="2.6">1</text>
<text transform="translate(107.3,26)rotate(90)" dy="2.6">2</text><text transform="translate(88.7,26)rotate(90)" dy="2.6">3</text>
<text transform="translate(70.1,26)rotate(90)" dy="2.6">4</text><text transform="translate(51.5,26)rotate(90)" dy="2.6">5</text>
<text transform="translate(32.9,26)rotate(90)" dy="2.6">6</text><text transform="translate(14.3,26)rotate(90)" dy="2.6">7</text>
<text transform="translate(-4.3,26)rotate(90)" dy="2.6">8</text><text transform="translate(-22.9,26)rotate(90)" dy="2.6">9</text>
<text transform="translate(-41.5,26)rotate(90)" dy="2.6">10</text><text transform="translate(-60.1,26)rotate(90)" dy="2.6">11</text>
<text transform="translate(-78.7,26)rotate(90)" dy="2.6">12</text><text transform="translate(-97.3,26)rotate(90)" dy="2.6">13</text>
<text transform="translate(-115.9,26)rotate(90)" dy="2.6">14</text><text transform="translate(-134.5,26)rotate(90)" dy="2.6">15</text>
</g>
</g>
</g>
<g opacity="0.2">
<text class="lb" transform="translate(343,567.3) scale(0.72,1)">M</text>
<text class="lb" transform="translate(399.5,486.3) scale(0.72,1)">E</text>
<text class="lb" transform="translate(427,708.3) scale(0.72,1)">N</text>
<text class="lb" transform="translate(235,727.3) scale(0.72,1)">D</text>
</g>
</g>

<!-- ============ WATERMARKS ============ -->
<g>
<text class="wl" x="28" y="117.3" textLength="131" lengthAdjust="spacingAndGlyphs">gdz-reshebnik.org</text>
<text class="wl" x="352.8" y="149" textLength="131" lengthAdjust="spacingAndGlyphs">gdz-reshebnik.org</text>
<text class="wl" x="28" y="217.3" textLength="131" lengthAdjust="spacingAndGlyphs">gdz-reshebnik.org</text>
<text class="wl" x="248" y="269.3" textLength="131" lengthAdjust="spacingAndGlyphs">gdz-reshebnik.org</text>
<text class="wl" x="459.7" y="269.3" textLength="131" lengthAdjust="spacingAndGlyphs">gdz-reshebnik.org</text>

<text class="wl" x="28" y="346.7" textLength="131" lengthAdjust="spacingAndGlyphs">gdz-reshebnik.org</text>
<text class="wl" x="359.7" y="374" textLength="131" lengthAdjust="spacingAndGlyphs">gdz-reshebnik.org</text>
<text class="wl" x="28" y="441.7" textLength="131" lengthAdjust="spacingAndGlyphs">gdz-reshebnik.org</text>
<text class="wl" x="408" y="469.3" textLength="131" lengthAdjust="spacingAndGlyphs">gdz-reshebnik.org</text>
<text class="ws" x="28" y="557.3" textLength="87" lengthAdjust="spacingAndGlyphs">gdz-reshebnik.org</text>
<text class="ws" x="176.2" y="545" textLength="87" lengthAdjust="spacingAndGlyphs">gdz-reshebnik.org</text>
<text class="wl" x="355.6" y="565" textLength="131" lengthAdjust="spacingAndGlyphs">gdz-reshebnik.org</text>
<text class="wl" x="28" y="653.3" textLength="131" lengthAdjust="spacingAndGlyphs">gdz-reshebnik.org</text>
<text class="wl" x="383.9" y="660.7" textLength="131" lengthAdjust="spacingAndGlyphs">gdz-reshebnik.org</text>
<text class="wl" x="28" y="750" textLength="131" lengthAdjust="spacingAndGlyphs">gdz-reshebnik.org</text>
<text class="wl" x="240" y="757.3" textLength="131" lengthAdjust="spacingAndGlyphs">gdz-reshebnik.org</text>
<text class="wl" x="452.4" y="757.3" textLength="131" lengthAdjust="spacingAndGlyphs">gdz-reshebnik.org</text>

<text class="wl" x="28" y="845.6" textLength="131" lengthAdjust="spacingAndGlyphs">gdz-reshebnik.org</text>
<text class="wl" x="240" y="854" textLength="131" lengthAdjust="spacingAndGlyphs">gdz-reshebnik.org</text>
<text class="wl" x="464.5" y="854" textLength="131" lengthAdjust="spacingAndGlyphs">gdz-reshebnik.org</text>
<text class="wl" x="28" y="941.9" textLength="131" lengthAdjust="spacingAndGlyphs">gdz-reshebnik.org</text>
<text class="wl" x="240" y="970.1" textLength="131" lengthAdjust="spacingAndGlyphs">gdz-reshebnik.org</text>
<text class="wl" x="452.4" y="970.1" textLength="131" lengthAdjust="spacingAndGlyphs">gdz-reshebnik.org</text>
<text class="wl" x="28" y="1037.3" textLength="131" lengthAdjust="spacingAndGlyphs">gdz-reshebnik.org</text>
<text class="wl" x="412.1" y="1065.6" textLength="131" lengthAdjust="spacingAndGlyphs">gdz-reshebnik.org</text>
<text class="wl" x="176.2" y="1134" textLength="131" lengthAdjust="spacingAndGlyphs">gdz-reshebnik.org</text>
<text class="wl" x="396" y="1161.8" textLength="131" lengthAdjust="spacingAndGlyphs">gdz-reshebnik.org</text>
<text class="wl" x="367.7" y="1257.7" textLength="131" lengthAdjust="spacingAndGlyphs">gdz-reshebnik.org</text>
<text class="wl" x="59.7" y="1281.3" textLength="131" lengthAdjust="spacingAndGlyphs">gdz-reshebnik.org</text>
<text class="wl" x="371.8" y="1353.1" textLength="131" lengthAdjust="spacingAndGlyphs">gdz-reshebnik.org</text>
<text class="wl" x="160" y="1376.8" textLength="131" lengthAdjust="spacingAndGlyphs">gdz-reshebnik.org</text>
<text class="wl" x="464.5" y="1450" textLength="131" lengthAdjust="spacingAndGlyphs">gdz-reshebnik.org</text>

<text class="wl" x="40.3" y="1472.8" textLength="131" lengthAdjust="spacingAndGlyphs">gdz-reshebnik.org</text>
<text class="wl" x="252" y="1472.8" textLength="131" lengthAdjust="spacingAndGlyphs">gdz-reshebnik.org</text>
<text class="wl" x="347.6" y="1570.3" textLength="131" lengthAdjust="spacingAndGlyphs">gdz-reshebnik.org</text>
<text class="wl" x="135.9" y="1590.2" textLength="131" lengthAdjust="spacingAndGlyphs">gdz-reshebnik.org</text>
<text class="wl" x="444.4" y="1665.8" textLength="131" lengthAdjust="spacingAndGlyphs">gdz-reshebnik.org</text>
<text class="wl" x="91.9" y="1686.5" textLength="131" lengthAdjust="spacingAndGlyphs">gdz-reshebnik.org</text>
<text class="wl" x="472.6" y="1762" textLength="131" lengthAdjust="spacingAndGlyphs">gdz-reshebnik.org</text>
<text class="wl" x="152" y="1782" textLength="131" lengthAdjust="spacingAndGlyphs">gdz-reshebnik.org</text>
<text class="wl" x="40.3" y="1878.2" textLength="131" lengthAdjust="spacingAndGlyphs">gdz-reshebnik.org</text>
<text class="ws" x="304.4" y="1930.5" textLength="87" lengthAdjust="spacingAndGlyphs">gdz-reshebnik.org</text>
<text class="wl" x="472.6" y="1934.2" textLength="131" lengthAdjust="spacingAndGlyphs">gdz-reshebnik.org</text>
<text class="wl" x="91.9" y="1974.5" textLength="131" lengthAdjust="spacingAndGlyphs">gdz-reshebnik.org</text>
<text class="wl" x="472.6" y="2029.7" textLength="131" lengthAdjust="spacingAndGlyphs">gdz-reshebnik.org</text>
<text class="wl" x="48.4" y="2069.9" textLength="131" lengthAdjust="spacingAndGlyphs">gdz-reshebnik.org</text>
<text class="wl" x="260" y="2069.9" textLength="131" lengthAdjust="spacingAndGlyphs">gdz-reshebnik.org</text>

<text class="wl" x="472.6" y="2125.4" textLength="131" lengthAdjust="spacingAndGlyphs">gdz-reshebnik.org</text>
<text class="wl" x="48.4" y="2165.8" textLength="131" lengthAdjust="spacingAndGlyphs">gdz-reshebnik.org</text>
<text class="wl" x="260" y="2165.8" textLength="131" lengthAdjust="spacingAndGlyphs">gdz-reshebnik.org</text>
<text class="wl" x="472.6" y="2221.9" textLength="131" lengthAdjust="spacingAndGlyphs">gdz-reshebnik.org</text>
<text class="wl" x="87.9" y="2260.5" textLength="131" lengthAdjust="spacingAndGlyphs">gdz-reshebnik.org</text>
<text class="wl" x="472.6" y="2318.4" textLength="131" lengthAdjust="spacingAndGlyphs">gdz-reshebnik.org</text>
<text class="wl" x="148" y="2357" textLength="131" lengthAdjust="spacingAndGlyphs">gdz-reshebnik.org</text>
<text class="ws" x="517" y="2409.6" textLength="87" lengthAdjust="spacingAndGlyphs">gdz-reshebnik.org</text>
<text class="ws" x="364" y="2445.8" textLength="87" lengthAdjust="spacingAndGlyphs">gdz-reshebnik.org</text>
<text class="wl" x="100" y="2453.5" textLength="131" lengthAdjust="spacingAndGlyphs">gdz-reshebnik.org</text>
<text class="wl" x="87.9" y="2550" textLength="131" lengthAdjust="spacingAndGlyphs">gdz-reshebnik.org</text>
<text class="ws" x="300.4" y="2550" textLength="87" lengthAdjust="spacingAndGlyphs">gdz-reshebnik.org</text>
<text class="wl" x="472.6" y="2553.5" textLength="131" lengthAdjust="spacingAndGlyphs">gdz-reshebnik.org</text>

<text class="wl" x="48.4" y="2645" textLength="131" lengthAdjust="spacingAndGlyphs">gdz-reshebnik.org</text>
<text class="wl" x="260" y="2645" textLength="131" lengthAdjust="spacingAndGlyphs">gdz-reshebnik.org</text>
<text class="wl" x="472.6" y="2649" textLength="131" lengthAdjust="spacingAndGlyphs">gdz-reshebnik.org</text>
<text class="wl" x="156.5" y="2741.7" textLength="131" lengthAdjust="spacingAndGlyphs">gdz-reshebnik.org</text>
<text class="wl" x="472.6" y="2745" textLength="131" lengthAdjust="spacingAndGlyphs">gdz-reshebnik.org</text>
<text class="wl" x="48.4" y="2836.7" textLength="131" lengthAdjust="spacingAndGlyphs">gdz-reshebnik.org</text>
<text class="wl" x="260" y="2836.7" textLength="131" lengthAdjust="spacingAndGlyphs">gdz-reshebnik.org</text>
<text class="wl" x="472.6" y="2872.7" textLength="131" lengthAdjust="spacingAndGlyphs">gdz-reshebnik.org</text>
</g>
</svg>
</body></html>
